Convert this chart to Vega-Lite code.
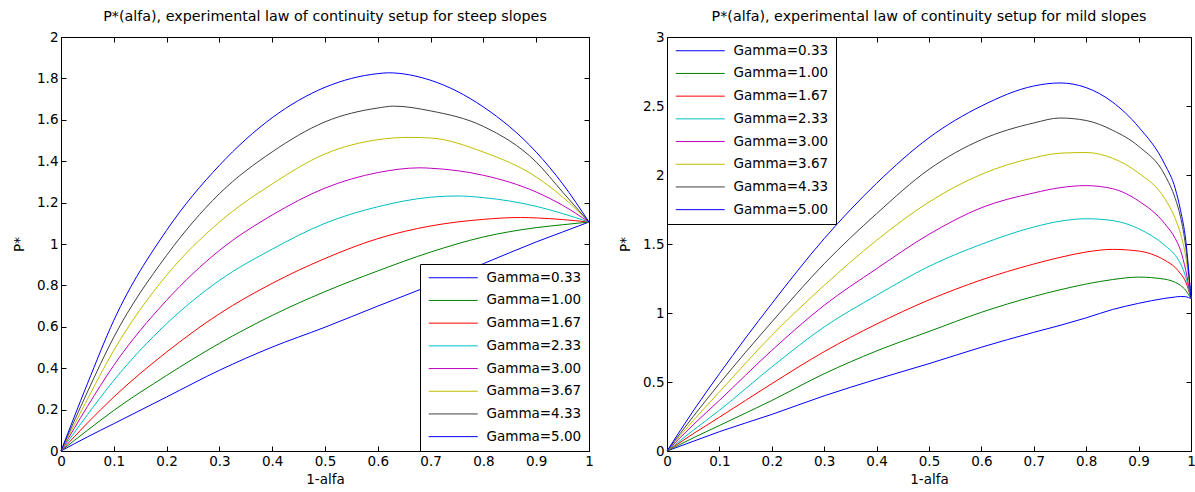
{
  "$schema": "https://vega.github.io/schema/vega-lite/v6.json",
  "background": "white",
  "padding": {"left": 12, "top": 9, "right": 2, "bottom": 0},
  "config": {
    "font": "DejaVu Sans",
    "view": {"stroke": "black", "strokeWidth": 1},
    "axis": {"grid": false, "domainColor": "black", "tickColor": "black", "tickSize": -5, "labelColor": "black", "labelFontSize": 13.5, "labelFont": "DejaVu Sans", "titleFont": "DejaVu Sans", "titleFontSize": 13.5, "titleFontWeight": "normal", "titleColor": "black", "labelPadding": 8, "labelFlush": false},
    "title": {"font": "DejaVu Sans", "fontSize": 14.3, "fontWeight": "normal", "color": "black", "offset": 6},
    "concat": {"spacing": 24}
  },
  "datasets": {
    "steep": [
      {"x":0,"g":"Gamma=0.33","y":0},{"x":0.05,"g":"Gamma=0.33","y":0.068},{"x":0.1,"g":"Gamma=0.33","y":0.132},{"x":0.2,"g":"Gamma=0.33","y":0.261},{"x":0.3,"g":"Gamma=0.33","y":0.39},{"x":0.4,"g":"Gamma=0.33","y":0.502},{"x":0.5,"g":"Gamma=0.33","y":0.598},{"x":0.6,"g":"Gamma=0.33","y":0.7},{"x":0.7,"g":"Gamma=0.33","y":0.8},{"x":0.8,"g":"Gamma=0.33","y":0.905},{"x":0.9,"g":"Gamma=0.33","y":1.01},{"x":0.95,"g":"Gamma=0.33","y":1.058},{"x":1,"g":"Gamma=0.33","y":1.106},
      {"x":0,"g":"Gamma=1.00","y":0},{"x":0.05,"g":"Gamma=1.00","y":0.1},{"x":0.1,"g":"Gamma=1.00","y":0.196},{"x":0.2,"g":"Gamma=1.00","y":0.365},{"x":0.3,"g":"Gamma=1.00","y":0.52},{"x":0.4,"g":"Gamma=1.00","y":0.655},{"x":0.5,"g":"Gamma=1.00","y":0.77},{"x":0.6,"g":"Gamma=1.00","y":0.87},{"x":0.7,"g":"Gamma=1.00","y":0.961},{"x":0.8,"g":"Gamma=1.00","y":1.034},{"x":0.9,"g":"Gamma=1.00","y":1.079},{"x":0.95,"g":"Gamma=1.00","y":1.093},{"x":1,"g":"Gamma=1.00","y":1.106},
      {"x":0,"g":"Gamma=1.67","y":0},{"x":0.05,"g":"Gamma=1.67","y":0.135},{"x":0.1,"g":"Gamma=1.67","y":0.261},{"x":0.2,"g":"Gamma=1.67","y":0.478},{"x":0.3,"g":"Gamma=1.67","y":0.663},{"x":0.4,"g":"Gamma=1.67","y":0.81},{"x":0.5,"g":"Gamma=1.67","y":0.93},{"x":0.6,"g":"Gamma=1.67","y":1.026},{"x":0.7,"g":"Gamma=1.67","y":1.087},{"x":0.8,"g":"Gamma=1.67","y":1.119},{"x":0.87,"g":"Gamma=1.67","y":1.128},{"x":0.9,"g":"Gamma=1.67","y":1.126},{"x":0.95,"g":"Gamma=1.67","y":1.118},{"x":1,"g":"Gamma=1.67","y":1.106},
      {"x":0,"g":"Gamma=2.33","y":0},{"x":0.05,"g":"Gamma=2.33","y":0.175},{"x":0.1,"g":"Gamma=2.33","y":0.341},{"x":0.2,"g":"Gamma=2.33","y":0.615},{"x":0.3,"g":"Gamma=2.33","y":0.824},{"x":0.4,"g":"Gamma=2.33","y":0.975},{"x":0.5,"g":"Gamma=2.33","y":1.1},{"x":0.6,"g":"Gamma=2.33","y":1.18},{"x":0.7,"g":"Gamma=2.33","y":1.226},{"x":0.75,"g":"Gamma=2.33","y":1.232},{"x":0.8,"g":"Gamma=2.33","y":1.224},{"x":0.9,"g":"Gamma=2.33","y":1.182},{"x":0.95,"g":"Gamma=2.33","y":1.147},{"x":1,"g":"Gamma=2.33","y":1.106},
      {"x":0,"g":"Gamma=3.00","y":0},{"x":0.05,"g":"Gamma=3.00","y":0.215},{"x":0.1,"g":"Gamma=3.00","y":0.414},{"x":0.2,"g":"Gamma=3.00","y":0.728},{"x":0.3,"g":"Gamma=3.00","y":0.969},{"x":0.4,"g":"Gamma=3.00","y":1.14},{"x":0.5,"g":"Gamma=3.00","y":1.27},{"x":0.6,"g":"Gamma=3.00","y":1.345},{"x":0.68,"g":"Gamma=3.00","y":1.368},{"x":0.7,"g":"Gamma=3.00","y":1.366},{"x":0.8,"g":"Gamma=3.00","y":1.332},{"x":0.9,"g":"Gamma=3.00","y":1.251},{"x":0.95,"g":"Gamma=3.00","y":1.187},{"x":1,"g":"Gamma=3.00","y":1.106},
      {"x":0,"g":"Gamma=3.67","y":0},{"x":0.05,"g":"Gamma=3.67","y":0.25},{"x":0.1,"g":"Gamma=3.67","y":0.486},{"x":0.2,"g":"Gamma=3.67","y":0.849},{"x":0.3,"g":"Gamma=3.67","y":1.106},{"x":0.4,"g":"Gamma=3.67","y":1.29},{"x":0.5,"g":"Gamma=3.67","y":1.435},{"x":0.6,"g":"Gamma=3.67","y":1.504},{"x":0.66,"g":"Gamma=3.67","y":1.515},{"x":0.7,"g":"Gamma=3.67","y":1.512},{"x":0.8,"g":"Gamma=3.67","y":1.444},{"x":0.9,"g":"Gamma=3.67","y":1.324},{"x":0.95,"g":"Gamma=3.67","y":1.227},{"x":1,"g":"Gamma=3.67","y":1.106},
      {"x":0,"g":"Gamma=4.33","y":0},{"x":0.05,"g":"Gamma=4.33","y":0.285},{"x":0.1,"g":"Gamma=4.33","y":0.55},{"x":0.2,"g":"Gamma=4.33","y":0.945},{"x":0.3,"g":"Gamma=4.33","y":1.243},{"x":0.4,"g":"Gamma=4.33","y":1.445},{"x":0.5,"g":"Gamma=4.33","y":1.59},{"x":0.6,"g":"Gamma=4.33","y":1.657},{"x":0.63,"g":"Gamma=4.33","y":1.666},{"x":0.7,"g":"Gamma=4.33","y":1.643},{"x":0.8,"g":"Gamma=4.33","y":1.568},{"x":0.9,"g":"Gamma=4.33","y":1.396},{"x":0.95,"g":"Gamma=4.33","y":1.251},{"x":1,"g":"Gamma=4.33","y":1.106},
      {"x":0,"g":"Gamma=5.00","y":0},{"x":0.05,"g":"Gamma=5.00","y":0.325},{"x":0.1,"g":"Gamma=5.00","y":0.631},{"x":0.2,"g":"Gamma=5.00","y":1.066},{"x":0.3,"g":"Gamma=5.00","y":1.38},{"x":0.4,"g":"Gamma=5.00","y":1.61},{"x":0.5,"g":"Gamma=5.00","y":1.757},{"x":0.6,"g":"Gamma=5.00","y":1.823},{"x":0.62,"g":"Gamma=5.00","y":1.827},{"x":0.7,"g":"Gamma=5.00","y":1.791},{"x":0.8,"g":"Gamma=5.00","y":1.662},{"x":0.9,"g":"Gamma=5.00","y":1.444},{"x":0.95,"g":"Gamma=5.00","y":1.291},{"x":1,"g":"Gamma=5.00","y":1.106}
    ],
    "mild": [
      {"x":0,"g":"Gamma=0.33","y":0},{"x":0.05,"g":"Gamma=0.33","y":0.07},{"x":0.1,"g":"Gamma=0.33","y":0.14},{"x":0.2,"g":"Gamma=0.33","y":0.265},{"x":0.3,"g":"Gamma=0.33","y":0.4},{"x":0.4,"g":"Gamma=0.33","y":0.52},{"x":0.5,"g":"Gamma=0.33","y":0.633},{"x":0.6,"g":"Gamma=0.33","y":0.752},{"x":0.7,"g":"Gamma=0.33","y":0.86},{"x":0.75,"g":"Gamma=0.33","y":0.91},{"x":0.8,"g":"Gamma=0.33","y":0.965},{"x":0.85,"g":"Gamma=0.33","y":1.025},{"x":0.9,"g":"Gamma=0.33","y":1.07},{"x":0.95,"g":"Gamma=0.33","y":1.106},{"x":0.97,"g":"Gamma=0.33","y":1.116},{"x":0.98,"g":"Gamma=0.33","y":1.12},{"x":0.99,"g":"Gamma=0.33","y":1.118},{"x":1,"g":"Gamma=0.33","y":1.104},
      {"x":0,"g":"Gamma=1.00","y":0},{"x":0.05,"g":"Gamma=1.00","y":0.095},{"x":0.1,"g":"Gamma=1.00","y":0.185},{"x":0.2,"g":"Gamma=1.00","y":0.366},{"x":0.3,"g":"Gamma=1.00","y":0.56},{"x":0.4,"g":"Gamma=1.00","y":0.725},{"x":0.5,"g":"Gamma=1.00","y":0.866},{"x":0.6,"g":"Gamma=1.00","y":1.005},{"x":0.7,"g":"Gamma=1.00","y":1.12},{"x":0.75,"g":"Gamma=1.00","y":1.168},{"x":0.8,"g":"Gamma=1.00","y":1.21},{"x":0.85,"g":"Gamma=1.00","y":1.242},{"x":0.9,"g":"Gamma=1.00","y":1.26},{"x":0.95,"g":"Gamma=1.00","y":1.245},{"x":0.97,"g":"Gamma=1.00","y":1.222},{"x":0.98,"g":"Gamma=1.00","y":1.2},{"x":0.99,"g":"Gamma=1.00","y":1.164},{"x":1,"g":"Gamma=1.00","y":1.104},
      {"x":0,"g":"Gamma=1.67","y":0},{"x":0.05,"g":"Gamma=1.67","y":0.125},{"x":0.1,"g":"Gamma=1.67","y":0.245},{"x":0.2,"g":"Gamma=1.67","y":0.488},{"x":0.3,"g":"Gamma=1.67","y":0.72},{"x":0.4,"g":"Gamma=1.67","y":0.92},{"x":0.5,"g":"Gamma=1.67","y":1.095},{"x":0.6,"g":"Gamma=1.67","y":1.24},{"x":0.7,"g":"Gamma=1.67","y":1.355},{"x":0.75,"g":"Gamma=1.67","y":1.403},{"x":0.8,"g":"Gamma=1.67","y":1.442},{"x":0.85,"g":"Gamma=1.67","y":1.461},{"x":0.9,"g":"Gamma=1.67","y":1.449},{"x":0.95,"g":"Gamma=1.67","y":1.382},{"x":0.97,"g":"Gamma=1.67","y":1.329},{"x":0.98,"g":"Gamma=1.67","y":1.285},{"x":0.99,"g":"Gamma=1.67","y":1.225},{"x":1,"g":"Gamma=1.67","y":1.104},
      {"x":0,"g":"Gamma=2.33","y":0},{"x":0.05,"g":"Gamma=2.33","y":0.15},{"x":0.1,"g":"Gamma=2.33","y":0.295},{"x":0.2,"g":"Gamma=2.33","y":0.609},{"x":0.3,"g":"Gamma=2.33","y":0.899},{"x":0.4,"g":"Gamma=2.33","y":1.128},{"x":0.5,"g":"Gamma=2.33","y":1.338},{"x":0.6,"g":"Gamma=2.33","y":1.498},{"x":0.7,"g":"Gamma=2.33","y":1.623},{"x":0.75,"g":"Gamma=2.33","y":1.665},{"x":0.8,"g":"Gamma=2.33","y":1.683},{"x":0.85,"g":"Gamma=2.33","y":1.67},{"x":0.9,"g":"Gamma=2.33","y":1.611},{"x":0.95,"g":"Gamma=2.33","y":1.49},{"x":0.97,"g":"Gamma=2.33","y":1.418},{"x":0.98,"g":"Gamma=2.33","y":1.357},{"x":0.99,"g":"Gamma=2.33","y":1.261},{"x":1,"g":"Gamma=2.33","y":1.104},
      {"x":0,"g":"Gamma=3.00","y":0},{"x":0.05,"g":"Gamma=3.00","y":0.19},{"x":0.1,"g":"Gamma=3.00","y":0.367},{"x":0.2,"g":"Gamma=3.00","y":0.729},{"x":0.3,"g":"Gamma=3.00","y":1.056},{"x":0.4,"g":"Gamma=3.00","y":1.321},{"x":0.5,"g":"Gamma=3.00","y":1.57},{"x":0.6,"g":"Gamma=3.00","y":1.763},{"x":0.7,"g":"Gamma=3.00","y":1.87},{"x":0.75,"g":"Gamma=3.00","y":1.908},{"x":0.8,"g":"Gamma=3.00","y":1.923},{"x":0.85,"g":"Gamma=3.00","y":1.901},{"x":0.9,"g":"Gamma=3.00","y":1.812},{"x":0.95,"g":"Gamma=3.00","y":1.647},{"x":0.97,"g":"Gamma=3.00","y":1.539},{"x":0.98,"g":"Gamma=3.00","y":1.454},{"x":0.99,"g":"Gamma=3.00","y":1.309},{"x":1,"g":"Gamma=3.00","y":1.104},
      {"x":0,"g":"Gamma=3.67","y":0},{"x":0.05,"g":"Gamma=3.67","y":0.22},{"x":0.1,"g":"Gamma=3.67","y":0.428},{"x":0.2,"g":"Gamma=3.67","y":0.838},{"x":0.3,"g":"Gamma=3.67","y":1.2},{"x":0.4,"g":"Gamma=3.67","y":1.527},{"x":0.5,"g":"Gamma=3.67","y":1.804},{"x":0.6,"g":"Gamma=3.67","y":2.005},{"x":0.7,"g":"Gamma=3.67","y":2.125},{"x":0.75,"g":"Gamma=3.67","y":2.158},{"x":0.8,"g":"Gamma=3.67","y":2.163},{"x":0.85,"g":"Gamma=3.67","y":2.122},{"x":0.9,"g":"Gamma=3.67","y":2.014},{"x":0.95,"g":"Gamma=3.67","y":1.829},{"x":0.97,"g":"Gamma=3.67","y":1.684},{"x":0.98,"g":"Gamma=3.67","y":1.575},{"x":0.99,"g":"Gamma=3.67","y":1.406},{"x":1,"g":"Gamma=3.67","y":1.104},
      {"x":0,"g":"Gamma=4.33","y":0},{"x":0.05,"g":"Gamma=4.33","y":0.25},{"x":0.1,"g":"Gamma=4.33","y":0.488},{"x":0.2,"g":"Gamma=4.33","y":0.935},{"x":0.3,"g":"Gamma=4.33","y":1.357},{"x":0.4,"g":"Gamma=4.33","y":1.72},{"x":0.5,"g":"Gamma=4.33","y":2.041},{"x":0.6,"g":"Gamma=4.33","y":2.256},{"x":0.7,"g":"Gamma=4.33","y":2.377},{"x":0.75,"g":"Gamma=4.33","y":2.413},{"x":0.8,"g":"Gamma=4.33","y":2.395},{"x":0.85,"g":"Gamma=4.33","y":2.325},{"x":0.9,"g":"Gamma=4.33","y":2.208},{"x":0.95,"g":"Gamma=4.33","y":2.0},{"x":0.97,"g":"Gamma=4.33","y":1.829},{"x":0.98,"g":"Gamma=4.33","y":1.696},{"x":0.99,"g":"Gamma=4.33","y":1.478},{"x":1,"g":"Gamma=4.33","y":1.104},
      {"x":0,"g":"Gamma=5.00","y":0},{"x":0.05,"g":"Gamma=5.00","y":0.29},{"x":0.1,"g":"Gamma=5.00","y":0.56},{"x":0.2,"g":"Gamma=5.00","y":1.068},{"x":0.3,"g":"Gamma=5.00","y":1.539},{"x":0.4,"g":"Gamma=5.00","y":1.94},{"x":0.5,"g":"Gamma=5.00","y":2.27},{"x":0.6,"g":"Gamma=5.00","y":2.5},{"x":0.7,"g":"Gamma=5.00","y":2.645},{"x":0.75,"g":"Gamma=5.00","y":2.667},{"x":0.8,"g":"Gamma=5.00","y":2.633},{"x":0.85,"g":"Gamma=5.00","y":2.529},{"x":0.9,"g":"Gamma=5.00","y":2.348},{"x":0.95,"g":"Gamma=5.00","y":2.077},{"x":0.97,"g":"Gamma=5.00","y":1.901},{"x":0.98,"g":"Gamma=5.00","y":1.744},{"x":0.99,"g":"Gamma=5.00","y":1.527},{"x":1,"g":"Gamma=5.00","y":1.104}
    ]
  },
  "hconcat": [
    {
      "width": 528, "height": 414,
      "title": "P*(alfa), experimental law of continuity setup for steep slopes",
      "data": {"name": "steep"},
      "layer": [
        {
          "mark": {"type": "line", "strokeWidth": 1, "interpolate": "monotone"},
          "encoding": {
            "x": {"field": "x", "type": "quantitative", "scale": {"domain": [0, 1], "nice": false}, "axis": {"title": "1-alfa", "values": [0,0.1,0.2,0.3,0.4,0.5,0.6,0.7,0.8,0.9,1], "format": "~g", "titlePadding": 5}},
            "y": {"field": "y", "type": "quantitative", "scale": {"domain": [0, 2], "nice": false}, "axis": {"title": "P*", "values": [0,0.2,0.4,0.6,0.8,1,1.2,1.4,1.6,1.8,2], "format": "~g", "titlePadding": 10}},
            "color": {"field": "g", "type": "nominal",
              "scale": {"domain": ["Gamma=0.33","Gamma=1.00","Gamma=1.67","Gamma=2.33","Gamma=3.00","Gamma=3.67","Gamma=4.33","Gamma=5.00"], "range": ["#0000ff","#008000","#ff0000","#00bfbf","#bf00bf","#bfbf00","#404040","#0000ff"]},
              "legend": {"orient": "bottom-right", "offset": 0, "title": null, "symbolType": "M-1,0H8.8", "symbolSize": 100, "symbolStrokeWidth": 1, "labelFontSize": 13.5, "labelFont": "DejaVu Sans", "labelColor": "black", "strokeColor": "black", "fillColor": "white", "padding": 7, "rowPadding": 7.7, "labelOffset": 46}}
          }
        },
        {
          "mark": {"type": "point", "opacity": 0},
          "encoding": {
            "x": {"field": "x", "type": "quantitative", "scale": {"domain": [0, 1], "nice": false}, "axis": {"orient": "top", "labels": false, "title": null, "values": [0,0.1,0.2,0.3,0.4,0.5,0.6,0.7,0.8,0.9,1]}},
            "y": {"field": "y", "type": "quantitative", "scale": {"domain": [0, 2], "nice": false}, "axis": {"orient": "right", "labels": false, "title": null, "values": [0,0.2,0.4,0.6,0.8,1,1.2,1.4,1.6,1.8,2]}}
          }
        }
      ],
      "resolve": {"axis": {"x": "independent", "y": "independent"}}
    },
    {
      "width": 524, "height": 414,
      "title": "P*(alfa), experimental law of continuity setup for mild slopes",
      "data": {"name": "mild"},
      "layer": [
        {
          "mark": {"type": "line", "strokeWidth": 1, "interpolate": "monotone"},
          "encoding": {
            "x": {"field": "x", "type": "quantitative", "scale": {"domain": [0, 1], "nice": false}, "axis": {"title": "1-alfa", "values": [0,0.1,0.2,0.3,0.4,0.5,0.6,0.7,0.8,0.9,1], "format": "~g", "titlePadding": 5}},
            "y": {"field": "y", "type": "quantitative", "scale": {"domain": [0, 3], "nice": false}, "axis": {"title": "P*", "values": [0,0.5,1,1.5,2,2.5,3], "format": "~g", "titlePadding": 10}},
            "color": {"field": "g", "type": "nominal",
              "scale": {"domain": ["Gamma=0.33","Gamma=1.00","Gamma=1.67","Gamma=2.33","Gamma=3.00","Gamma=3.67","Gamma=4.33","Gamma=5.00"], "range": ["#0000ff","#008000","#ff0000","#00bfbf","#bf00bf","#bfbf00","#404040","#0000ff"]},
              "legend": {"orient": "top-left", "offset": 0, "title": null, "symbolType": "M-1,0H8.8", "symbolSize": 100, "symbolStrokeWidth": 1, "labelFontSize": 13.5, "labelFont": "DejaVu Sans", "labelColor": "black", "strokeColor": "black", "fillColor": "white", "padding": 7, "rowPadding": 7.7, "labelOffset": 46}}
          }
        },
        {
          "mark": {"type": "point", "opacity": 0},
          "encoding": {
            "x": {"field": "x", "type": "quantitative", "scale": {"domain": [0, 1], "nice": false}, "axis": {"orient": "top", "labels": false, "title": null, "values": [0,0.1,0.2,0.3,0.4,0.5,0.6,0.7,0.8,0.9,1]}},
            "y": {"field": "y", "type": "quantitative", "scale": {"domain": [0, 3], "nice": false}, "axis": {"orient": "right", "labels": false, "title": null, "values": [0,0.5,1,1.5,2,2.5,3]}}
          }
        }
      ],
      "resolve": {"axis": {"x": "independent", "y": "independent"}}
    }
  ],
  "resolve": {"legend": {"color": "independent"}, "scale": {"color": "independent"}}
}
